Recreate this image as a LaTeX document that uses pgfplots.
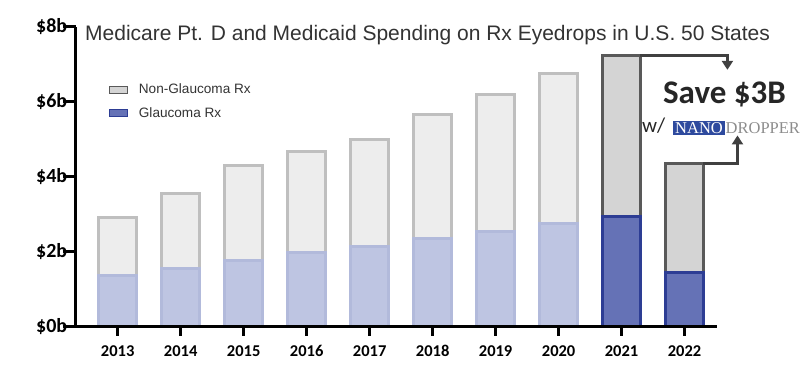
\documentclass[border=0pt]{standalone}
\usepackage{pgfplots}
\pgfplotsset{compat=1.18}
\usepackage{fontspec}
\setmainfont{Liberation Sans}
\newfontfamily\calfont{Carlito}
\newfontfamily\serfont{Liberation Serif}
\usetikzlibrary{arrows.meta}
\definecolor{lgfill}{HTML}{EDEDED}
\definecolor{lgdraw}{HTML}{BFBFBF}
\definecolor{lbfill}{HTML}{BEC5E2}
\definecolor{lbdraw}{HTML}{B2BADB}
\definecolor{dgfill}{HTML}{D4D4D4}
\definecolor{dgdraw}{HTML}{595959}
\definecolor{dbfill}{HTML}{6572B6}
\definecolor{dbdraw}{HTML}{2D3D94}
\definecolor{arrowc}{HTML}{404040}
\definecolor{titlec}{HTML}{333333}
\definecolor{nanoblue}{HTML}{2E4A9E}
\definecolor{dropgray}{HTML}{8C8C8C}
\begin{document}
\begin{tikzpicture}[x=1pt,y=1pt]
\begin{axis}[
  at={(75.7pt,53.3pt)}, anchor=south west,
  scale only axis, width=641pt, height=300pt,
  xmin=-0.667, xmax=9.51, ymin=0, ymax=8,
  axis x line*=bottom, axis y line*=left,
  axis line style={line width=3pt, black},
  axis on top, clip=false,
  ybar, bar width=38pt, bar shift=0pt,
  xtick={0,1,2,3,4,5,6,7,8,9},
  xticklabels={2013,2014,2015,2016,2017,2018,2019,2020,2021,2022},
  ytick={0,2,4,6,8},
  yticklabels={\$0b,\$2b,\$4b,\$6b,\$8b},
  tick align=outside,
  major tick length=13pt,
  ytick style={line width=3pt, black},
  xtick style={draw=none},
  yticklabel style={font=\calfont\bfseries\fontsize{20}{20}\selectfont, text=black, xshift=8pt},
  xticklabel style={font=\calfont\bfseries\fontsize{16.5}{16.5}\selectfont, text=black, yshift=-2pt},
  legend style={draw=none, fill=none, at={(axis description cs:0,1)}, anchor=north west,
    xshift=33pt, yshift=-55pt, font=\fontsize{13.6}{14}\selectfont, text=titlec,
    row sep=8pt, column sep=9pt, inner sep=0pt, legend cell align=left},
  legend image code/.code={\draw[#1, line width=1pt] (0pt,-3.5pt) rectangle (18pt,3.5pt);},
]
\addlegendimage{fill=dgfill, draw=dgdraw}
\addlegendentry{Non-Glaucoma Rx}
\addlegendimage{fill=dbfill, draw=dbdraw}
\addlegendentry{Glaucoma Rx}
% totals (non-glaucoma stacked on glaucoma)
\addplot[fill=lgfill, draw=lgdraw, line width=3pt, forget plot] coordinates {
  (0,2.92) (1,3.56) (2,4.31) (3,4.68) (4,4.98) (5,5.67) (6,6.20) (7,6.76)};
\addplot[fill=lbfill, draw=lbdraw, line width=3pt, forget plot] coordinates {
  (0,1.36) (1,1.54) (2,1.77) (3,1.99) (4,2.14) (5,2.36) (6,2.54) (7,2.75)};
\addplot[fill=dgfill, draw=dgdraw, line width=3pt, forget plot] coordinates {
  (8,7.24) (9,4.34)};
\addplot[fill=dbfill, draw=dbdraw, line width=3pt, forget plot] coordinates {
  (8,2.93) (9,1.44)};
\pgfplotsinvokeforeach{0,1,2,3,4,5,6,7,8,9}{
  \draw[line width=3pt, black] (axis cs:#1,0) -- ++(0pt,-9.5pt);
}
\draw[line width=3pt, arrowc, -{Triangle[width=11pt,length=9pt]}]
  (axis cs:8.30,7.24) -| (axis cs:9.68,6.85);
\draw[line width=3pt, arrowc, -{Triangle[width=11pt,length=9pt]}]
  (axis cs:9.30,4.34) -| (axis cs:9.84,5.10);
\end{axis}
\node[anchor=base west, font=\fontsize{21}{21}\selectfont, text=titlec, inner sep=0pt] at (85,339) {Medicare Pt. D and Medicaid Spending on Rx Eyedrops in U.S. 50 States};
\node[anchor=base, font=\calfont\bfseries\fontsize{33}{33}\selectfont, text=black!85, inner sep=0pt] at (724.5,276) {Save \$3B};
\node[anchor=base west, font=\calfont\fontsize{21}{21}\selectfont, text=black!85, inner sep=0pt] at (642,247) {w/};
\fill[nanoblue] (673,244.5) rectangle (725,258.5);
\node[anchor=base, font=\serfont\fontsize{16.5}{16.5}\selectfont, text=white, inner sep=0pt] at (699,246.5) {NANO};
\node[anchor=base west, font=\serfont\fontsize{16.5}{16.5}\selectfont, text=dropgray, inner sep=0pt] at (725.5,246.5) {DROPPER};
\pgfresetboundingbox
\useasboundingbox (0,0) rectangle (800,380);
\end{tikzpicture}
\end{document}
